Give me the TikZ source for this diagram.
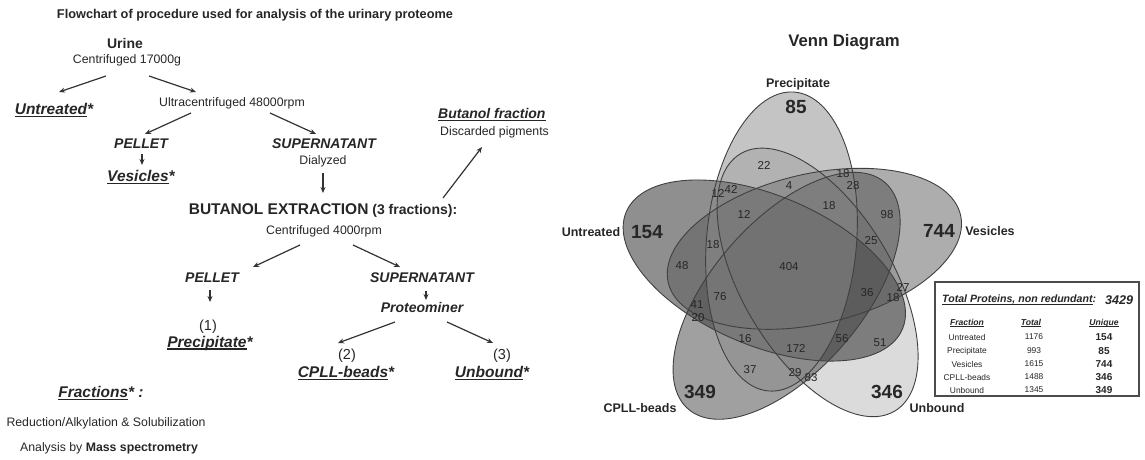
\documentclass[tikz,border=0pt]{standalone}
\usepackage{fontspec}
\setmainfont{Liberation Sans}
\usetikzlibrary{arrows.meta}

% underline with a heavier rule, as in the figure
\newcommand{\undl}[1]{\setbox0\hbox{#1}\rlap{\rule[-0.17em]{\wd0}{0.08em}}\box0}

\definecolor{untreatedgray}{gray}{0.12}
\definecolor{cpllgray}{gray}{0.26}
\definecolor{vesiclegray}{gray}{0.36}
\definecolor{unboundgray}{gray}{0.72}
\definecolor{precipgray}{gray}{0.54}

\begin{document}
\begin{tikzpicture}[x=1pt, y=-1pt,
    every node/.style={inner sep=0pt, text=black!85},
    note/.style={font=\fontsize{12.3}{14}\selectfont},
    stage/.style={font=\fontsize{14}{16}\selectfont\bfseries\itshape},
    fraction/.style={font=\fontsize{15.5}{17}\selectfont\bfseries\itshape},
    flow/.style={-{Stealth[length=6pt,width=5pt]}, line width=1.2pt, black!80},
    venn fill/.style={fill=#1, fill opacity=0.5},
    venn line/.style={draw=black!75, line width=0.9pt},
    venn num/.style={font=\fontsize{11.5}{13}\selectfont},
    venn big/.style={font=\fontsize{19}{21}\selectfont\bfseries},
    venn label/.style={font=\fontsize{12.5}{14}\selectfont\bfseries},
    cell/.style={font=\fontsize{8.4}{10}\selectfont},
    cell head/.style={font=\fontsize{8.6}{10}\selectfont\bfseries\itshape}]

  \useasboundingbox (0,0) rectangle (1145,459);

  % --- Flowchart ---
  \node[font=\fontsize{12.75}{15}\selectfont\bfseries] (title) at (255,15)
    {Flowchart of procedure used for analysis of the urinary proteome};

  % Urine
  \node[font=\fontsize{14}{16}\selectfont\bfseries] (urine) at (125,43) {Urine};
  \node[note] (cent1) at (127,60) {Centrifuged 17000g};

  % First split
  \node[fraction] (untreated) at (54,110) {\undl{Untreated}*};
  \node[note] (ultra) at (232,103) {Ultracentrifuged 48000rpm};
  \draw[flow] ([shift={(-21,16)}]cent1.center) -- ([shift={(5,-18)}]untreated.center);
  \draw[flow] ([shift={(22,16)}]cent1.center) -- ([shift={(-36,-11)}]ultra.center);

  % Ultracentrifugation
  \node[stage] (pellet1) at (141,144) {PELLET};
  \node[stage] (super1) at (324,144) {SUPERNATANT};
  \draw[flow] ([shift={(-41,10)}]ultra.center) -- ([shift={(4,-10)}]pellet1.center);
  \draw[flow] ([shift={(38,10)}]ultra.center) -- ([shift={(-8,-10)}]super1.center);

  \node[fraction] (vesicles) at (141,177) {\undl{Vesicles}*};
  \draw[flow] ([shift={(1,10)}]pellet1.center) -- ([shift={(1,-12)}]vesicles.center);

  \node[note] (dialyzed) at (323,161) {Dialyzed};

  % Butanol extraction
  \node[font=\fontsize{14}{16}\selectfont\bfseries] (butanol) at (323,211)
    {{\fontsize{15.5}{17}\selectfont BUTANOL EXTRACTION} (3 fractions):};
  \node[note] (cent2) at (324,231) {Centrifuged 4000rpm};
  \draw[flow] ([shift={(0,12)}]dialyzed.center) -- ([shift={(0,-18)}]butanol.center);

  \node[anchor=west, font=\fontsize{14}{16}\selectfont\bfseries\itshape] (butfrac) at (438,115)
    {\undl{Butanol fraction}};
  \node[anchor=west, note] (pigments) at (440,132) {Discarded pigments};
  \draw[flow] ([shift={(120,-13)}]butanol.center) -- ([shift={(42,15)}]pigments.west);

  % Second split
  \node[stage] (pellet2) at (212,278) {PELLET};
  \node[stage] (super2) at (422,278) {SUPERNATANT};
  \draw[flow] ([shift={(-24,14)}]cent2.center) -- ([shift={(41,-11)}]pellet2.center);
  \draw[flow] ([shift={(29,14)}]cent2.center) -- ([shift={(-22,-11)}]super2.center);

  \node[font=\fontsize{14.5}{16}\selectfont] (num1) at (208,327) {(1)};
  \node[fraction] (precipitate) at (210,343) {\undl{Precipitate}*};
  \draw[flow] ([shift={(-2,12)}]pellet2.center) -- ([shift={(2,-25)}]num1.center);

  \node[stage] (proteo) at (422,307) {Proteominer};
  \draw[flow] ([shift={(4,13)}]super2.center) -- ([shift={(4,-7)}]proteo.center);

  \node[font=\fontsize{14.5}{16}\selectfont] (num2) at (347,356) {(2)};
  \node[fraction] (cpll) at (346,373) {\undl{CPLL-beads}*};
  \node[font=\fontsize{14.5}{16}\selectfont] (num3) at (502,356) {(3)};
  \node[fraction] (unbound) at (492,373) {\undl{Unbound}*};
  \draw[flow] ([shift={(-27,15)}]proteo.center) -- ([shift={(-9,-13)}]num2.center);
  \draw[flow] ([shift={(25,15)}]proteo.center) -- ([shift={(-9,-13)}]num3.center);

  % Notes on the fractions
  \node[fraction] (fractions) at (101,393) {\undl{Fractions}* :};
  \node[note] (reduction) at (106,423) {Reduction/Alkylation \& Solubilization};
  \node[note] (analysis) at (109,448) {Analysis by \textbf{Mass spectrometry}};

  % --- Venn diagram ---
  \node[font=\fontsize{16.7}{19}\selectfont\bfseries] (venntitle) at (844,42) {Venn Diagram};

  \coordinate (cprec) at (781.5,241.5);
  \coordinate (cves) at (814.4,248.8);
  \coordinate (cunb) at (817.6,282.4);
  \coordinate (ccpll) at (786.6,295.8);
  \coordinate (cunt) at (764.3,270.5);

  % fills
  \fill[venn fill=unboundgray, rotate around={-59:(cunb)}] (cunb) ellipse (150 and 75);
  \fill[venn fill=untreatedgray, rotate around={157:(cunt)}] (cunt) ellipse (150 and 75);
  \fill[venn fill=cpllgray, rotate around={-131:(ccpll)}] (ccpll) ellipse (150 and 75);
  \fill[venn fill=vesiclegray, rotate around={13:(cves)}] (cves) ellipse (150 and 75);
  \fill[venn fill=precipgray, rotate around={85:(cprec)}] (cprec) ellipse (150 and 75);

  % outlines
  \draw[venn line, rotate around={-59:(cunb)}] (cunb) ellipse (150 and 75);
  \draw[venn line, rotate around={157:(cunt)}] (cunt) ellipse (150 and 75);
  \draw[venn line, rotate around={-131:(ccpll)}] (ccpll) ellipse (150 and 75);
  \draw[venn line, rotate around={13:(cves)}] (cves) ellipse (150 and 75);
  \draw[venn line, rotate around={85:(cprec)}] (cprec) ellipse (150 and 75);

  % set labels and unique counts
  \node[venn label] (lprec) at (798,84) {Precipitate};
  \node[venn big] (uprec) at (796,107) {85};
  \node[venn label] (lves) at (990,231) {Vesicles};
  \node[venn big] (uves) at (939,231) {744};
  \node[venn label] (lunb) at (937,408) {Unbound};
  \node[venn big] (uunb) at (887,392) {346};
  \node[venn label] (lcpll) at (640,408) {CPLL-beads};
  \node[venn big] (ucpll) at (700,392) {349};
  \node[venn label] (lunt) at (591,232) {Untreated};
  \node[venn big] (uunt) at (647,232) {154};

  % overlap counts
  \node[venn num] (r22) at (764,165) {22};
  \node[venn num] (r18a) at (843,174) {18};
  \node[venn num] (r28) at (853,186) {28};
  \node[venn num] (r12a) at (718,193) {12};
  \node[venn num] (r42) at (731,189) {42};
  \node[venn num] (r4) at (789,186) {4};
  \node[venn num] (r18b) at (829,206) {18};
  \node[venn num] (r12b) at (744,214) {12};
  \node[venn num] (r98) at (887,215) {98};
  \node[venn num] (r18c) at (713,245) {18};
  \node[venn num] (r25) at (871,241) {25};
  \node[venn num] (r48) at (682,266) {48};
  \node[venn num] (r404) at (789,267) {404};
  \node[venn num] (r27) at (903,287) {27};
  \node[venn num] (r36) at (867,293) {36};
  \node[venn num] (r18d) at (893,298) {18};
  \node[venn num] (r76) at (720,297) {76};
  \node[venn num] (r41) at (697,305) {41};
  \node[venn num] (r20) at (698,318) {20};
  \node[venn num] (r16) at (745,339) {16};
  \node[venn num] (r56) at (842,339) {56};
  \node[venn num] (r51) at (880,343) {51};
  \node[venn num] (r172) at (796,348) {172};
  \node[venn num] (r37) at (750,370) {37};
  \node[venn num] (r29) at (795,373) {29};
  \node[venn num] (r83) at (811,378) {83};

  % --- Summary table ---
  \draw[black!70, line width=1.2pt, fill=white] (935,282) rectangle (1139,396);
  \node[anchor=west, font=\fontsize{10.6}{12}\selectfont\bfseries\itshape] (ttitle) at (942,300)
    {\undl{Total Proteins, non redundant}:};
  \node[font=\fontsize{12.6}{14}\selectfont\bfseries\itshape] (tsum) at (1119,300) {3429};

  \node[cell head] (hfrac) at (967,323) {\undl{Fraction}};
  \node[cell head] (htot) at (1031,323) {\undl{Total}};
  \node[cell head] (huniq) at (1104,323) {\undl{Unique}};

  \node[cell] (f1) at (967,337) {Untreated};   \node[cell] (t1) at (1034,337) {1176}; \node[cell, font=\bfseries] (u1) at (1104,337) {154};
  \node[cell] (f2) at (967,351) {Precipitate}; \node[cell] (t2) at (1034,351) {993};  \node[cell, font=\bfseries] (u2) at (1104,351) {85};
  \node[cell] (f3) at (967,364) {Vesicles};    \node[cell] (t3) at (1034,364) {1615}; \node[cell, font=\bfseries] (u3) at (1104,364) {744};
  \node[cell] (f4) at (967,377) {CPLL-beads};  \node[cell] (t4) at (1034,377) {1488}; \node[cell, font=\bfseries] (u4) at (1104,377) {346};
  \node[cell] (f5) at (967,390) {Unbound};     \node[cell] (t5) at (1034,390) {1345}; \node[cell, font=\bfseries] (u5) at (1104,390) {349};

\end{tikzpicture}
\end{document}
